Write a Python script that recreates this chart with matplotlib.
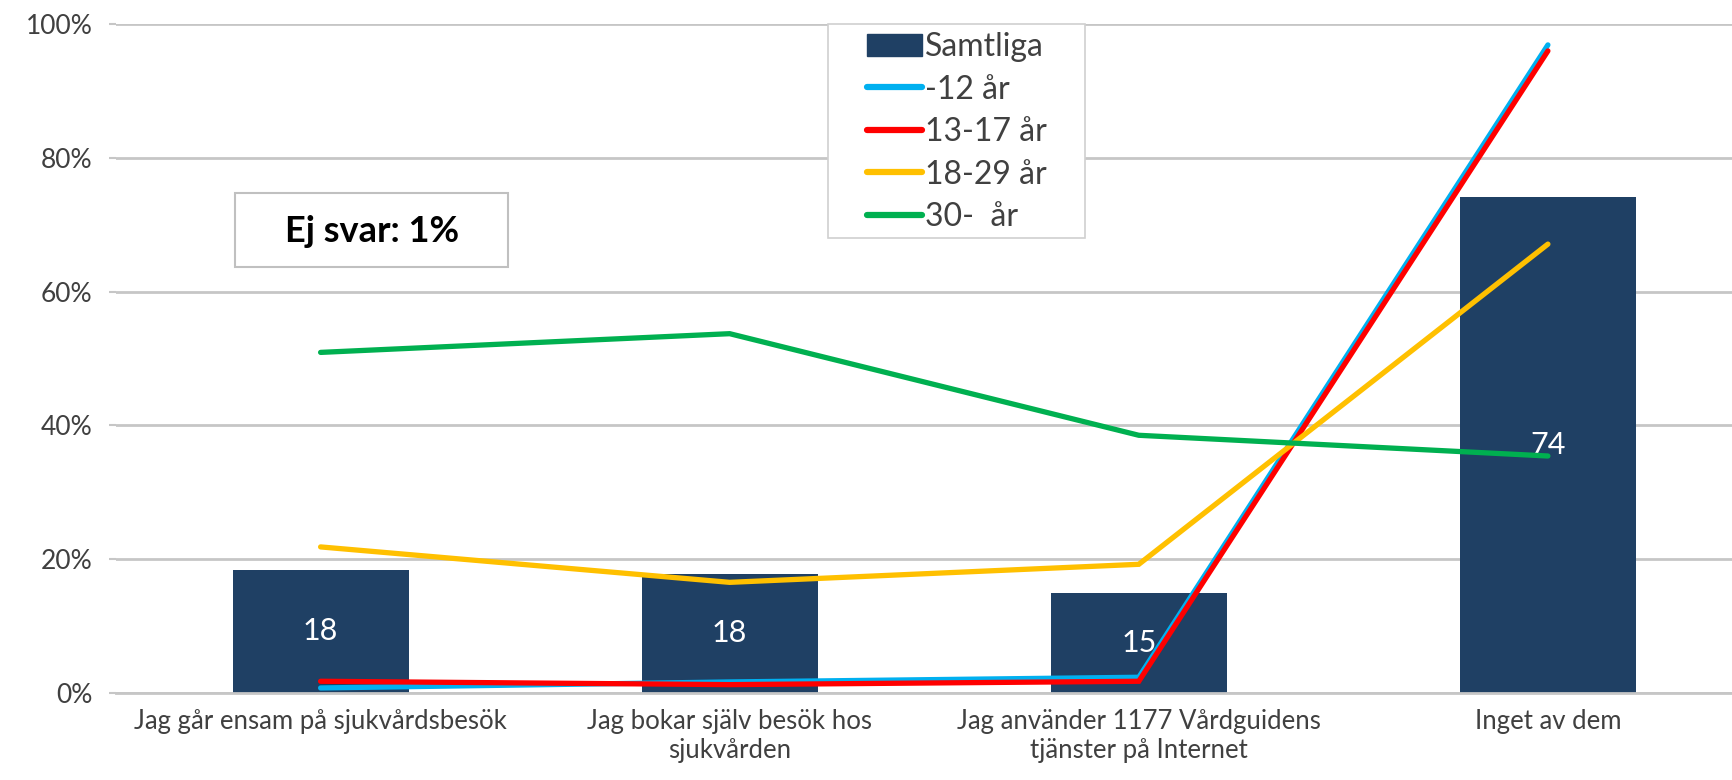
import numpy as np
import matplotlib.pyplot as plt
from matplotlib.patches import Patch, Rectangle
from matplotlib.lines import Line2D

plt.rcParams['font.family'] = ['Lato', 'DejaVu Sans']
plt.rcParams['font.size'] = 18.5

# data (procent)
categories = ['Jag går ensam på sjukvårdsbesök',
              'Jag bokar själv besök hos\nsjukvården',
              'Jag använder 1177 Vårdguidens\ntjänster på Internet',
              'Inget av dem']
samtliga = [18.3, 17.7, 14.9, 74.1]
samtliga_labels = ['18', '18', '15', '74']
age_12 = [0.7, 1.6, 2.3, 96.9]
age_13_17 = [1.7, 1.2, 1.7, 96.0]
age_18_29 = [21.8, 16.5, 19.2, 67.1]
age_30 = [50.9, 53.7, 38.5, 35.4]

series_names = ['-12 år', '13-17 år', '18-29 år', '30-  år']
series_colors = ['#00B0F0', '#FF0000', '#FFC000', '#00B050']

bar_color = '#1F4064'
text_color = '#404040'
grid_color = '#C6C6C6'

fig = plt.figure(figsize=(17.32, 7.8), dpi=100)
ax = fig.add_axes([0.067, 0.112, 0.933, 0.857])

x = np.arange(len(categories))
bars = ax.bar(x, samtliga, width=0.43, color=bar_color, zorder=2)
ax.bar_label(bars, labels=samtliga_labels, label_type='center',
             color='white', fontsize=22)

for vals, col in zip([age_12, age_13_17, age_18_29, age_30], series_colors):
    ax.plot(x, vals, color=col, linewidth=3.8, solid_capstyle='round',
            solid_joinstyle='miter', zorder=3)

ax.set_ylim(0, 100)
ax.set_xlim(-0.5, 3.45)
ax.set_yticks(np.arange(0, 101, 20))
ax.set_yticklabels([f'{v}%' for v in range(0, 101, 20)])
ax.set_xticks(x)
ax.set_xticklabels(categories)

ax.yaxis.grid(True, color=grid_color, linewidth=2, zorder=0)
ax.set_axisbelow(True)
for s in ['top', 'right', 'left']:
    ax.spines[s].set_visible(False)
ax.spines['bottom'].set_color(grid_color)
ax.spines['bottom'].set_linewidth(2)
ax.tick_params(axis='y', length=5, width=1.5, color=grid_color,
               labelcolor=text_color, labelsize=19, pad=12)
ax.tick_params(axis='x', length=0, labelcolor=text_color, pad=12)

# legend box + legend
ax.add_patch(Rectangle((0.4406, 0.680), 0.159, 0.320, transform=ax.transAxes,
                       facecolor='white', edgecolor='#D0D0D0', linewidth=1.2,
                       zorder=4, clip_on=False))
handles = [Patch(facecolor=bar_color, edgecolor=bar_color)]
handles += [Line2D([0], [0], color=c, linewidth=4.5, solid_capstyle='round')
            for c in series_colors]
leg = ax.legend(handles, ['Samtliga'] + series_names,
                loc='upper left', bbox_to_anchor=(0.4648, 0.988),
                fontsize=23, frameon=False,
                handlelength=1.72, handletextpad=0.1, labelspacing=0.39,
                borderpad=0.0, borderaxespad=0.0)
leg.set_zorder(5)
for t in leg.get_texts():
    t.set_color(text_color)

# note box
fig.patches.append(Rectangle((0.1357, 0.6577), 0.1576, 0.0949,
                             transform=fig.transFigure, facecolor='white',
                             edgecolor='#C0C0C0', linewidth=1.5, zorder=5))
fig.text(0.2148, 0.7026, 'Ej svar: 1%', fontsize=26, fontweight='bold',
         ha='center', va='center', color='black', zorder=6)

fig.savefig('out.png', dpi=100)
